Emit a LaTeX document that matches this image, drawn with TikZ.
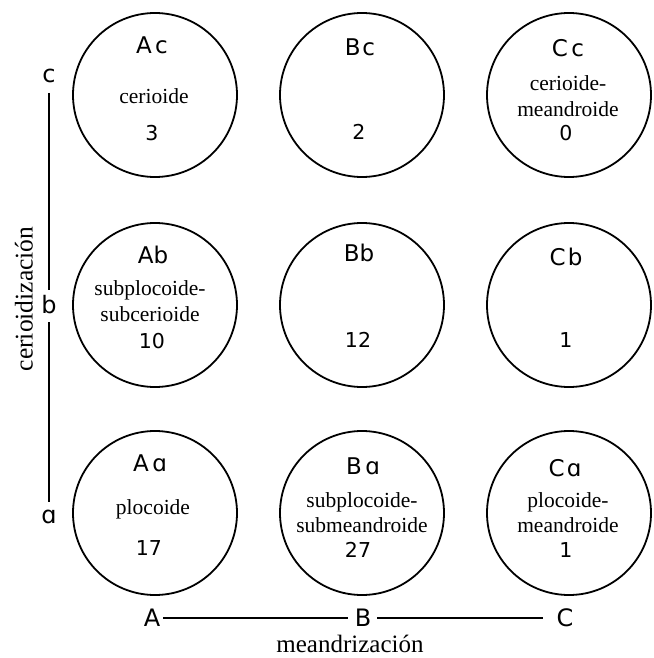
\documentclass[tikz,border=0pt]{standalone}
\usepackage{fontspec}
\setmainfont{Liberation Serif}
\newfontfamily\lab{DejaVu Sans}
\begin{document}
\begin{tikzpicture}[x=1pt,y=-1pt,
  ring/.style={circle,draw,line width=1.8pt,minimum size=164pt,inner sep=0pt},
  lbl/.style={font=\lab\fontsize{23}{25}\selectfont,inner sep=0pt},
  num/.style={font=\lab\fontsize{20.5}{23}\selectfont,inner sep=0pt},
  txt/.style={font=\fontsize{21.5}{25.5}\selectfont,align=center,inner sep=0pt},
  axl/.style={font=\lab\fontsize{24}{26}\selectfont,inner sep=0pt},
  axt/.style={font=\fontsize{25.5}{30}\selectfont,inner sep=0pt},
  hxt/.style={font=\fontsize{25}{30}\selectfont,inner sep=0pt},
  axisline/.style={line width=1.7pt}]
\useasboundingbox (0,0) rectangle (653,658);
% circles
\node[ring] (Ac) at (155,95) {};
\node[ring] (Bc) at (362,95) {};
\node[ring] (Cc) at (569,95) {};
\node[ring] (Ab) at (155,305) {};
\node[ring] (Bb) at (362,305) {};
\node[ring] (Cb) at (569,305) {};
\node[ring] (Aa) at (155,513) {};
\node[ring] (Ba) at (362,513) {};
\node[ring] (Ca) at (569,513) {};
% row c
\node[lbl] (tAc) at (152,45) {A\hspace{0.15em}c};
\node[txt] (xAc) at (154,96) {cerioide};
\node[num] (nAc) at (152,133) {3};
\node[lbl] (tBc) at (360,47) {B\hspace{0.08em}c};
\node[num] (nBc) at (359,132) {2};
\node[lbl] (tCc) at (568,48) {C\hspace{0.15em}c};
\node[txt] (xCc) at (568,96) {cerioide-\\meandroide};
\node[num] (nCc) at (566,133) {0};
% row b
\node[lbl] (tAb) at (153,255) {Ab};
\node[txt] (xAb) at (150,301) {subplocoide-\\subcerioide};
\node[num] (nAb) at (152,341) {10};
\node[lbl] (tBb) at (359,253) {Bb};
\node[num] (nBb) at (358,340) {12};
\node[lbl] (tCb) at (566,257) {C\hspace{0.1em}b};
\node[num] (nCb) at (566,340) {1};
% row a
\node[lbl] (tAa) at (150,463) {A\hspace{0.15em}ɑ};
\node[txt] (xAa) at (153,509) {plocoide};
\node[num] (nAa) at (149,548) {17};
\node[lbl] (tBa) at (363,466) {B\hspace{0.15em}ɑ};
\node[txt] (xBa) at (362,512.5) {subplocoide-\\submeandroide};
\node[num] (nBa) at (358,550) {27};
\node[lbl] (tCa) at (565,468) {C\hspace{0.1em}ɑ};
\node[txt] (xCa) at (568,512.5) {plocoide-\\meandroide};
\node[num] (nCa) at (566,550) {1};
% vertical axis
\node[axl] (lc) at (49,76) {c};
\node[axl] (lb) at (49,305) {b};
\node[axl] (la) at (49,517) {ɑ};
\draw[axisline,shorten <=17pt,shorten >=15pt] (lc.center) -- (lb.center);
\draw[axisline,shorten <=17pt,shorten >=15pt] (lb.center) -- (la.center);
\node[axt,rotate=90] (vt) at (24,299) {cerioidización};
% horizontal axis
\node[axl] (lA) at (152,618) {A};
\node[axl] (lB) at (363,618) {B};
\node[axl] (lC) at (565,618) {C};
\draw[axisline,shorten <=11pt,shorten >=15pt] (lA.center) -- (lB.center);
\draw[axisline,shorten <=14pt,shorten >=22pt] (lB.center) -- (lC.center);
\node[hxt] (ht) at (350,643.5) {meandrización};
\end{tikzpicture}
\end{document}
